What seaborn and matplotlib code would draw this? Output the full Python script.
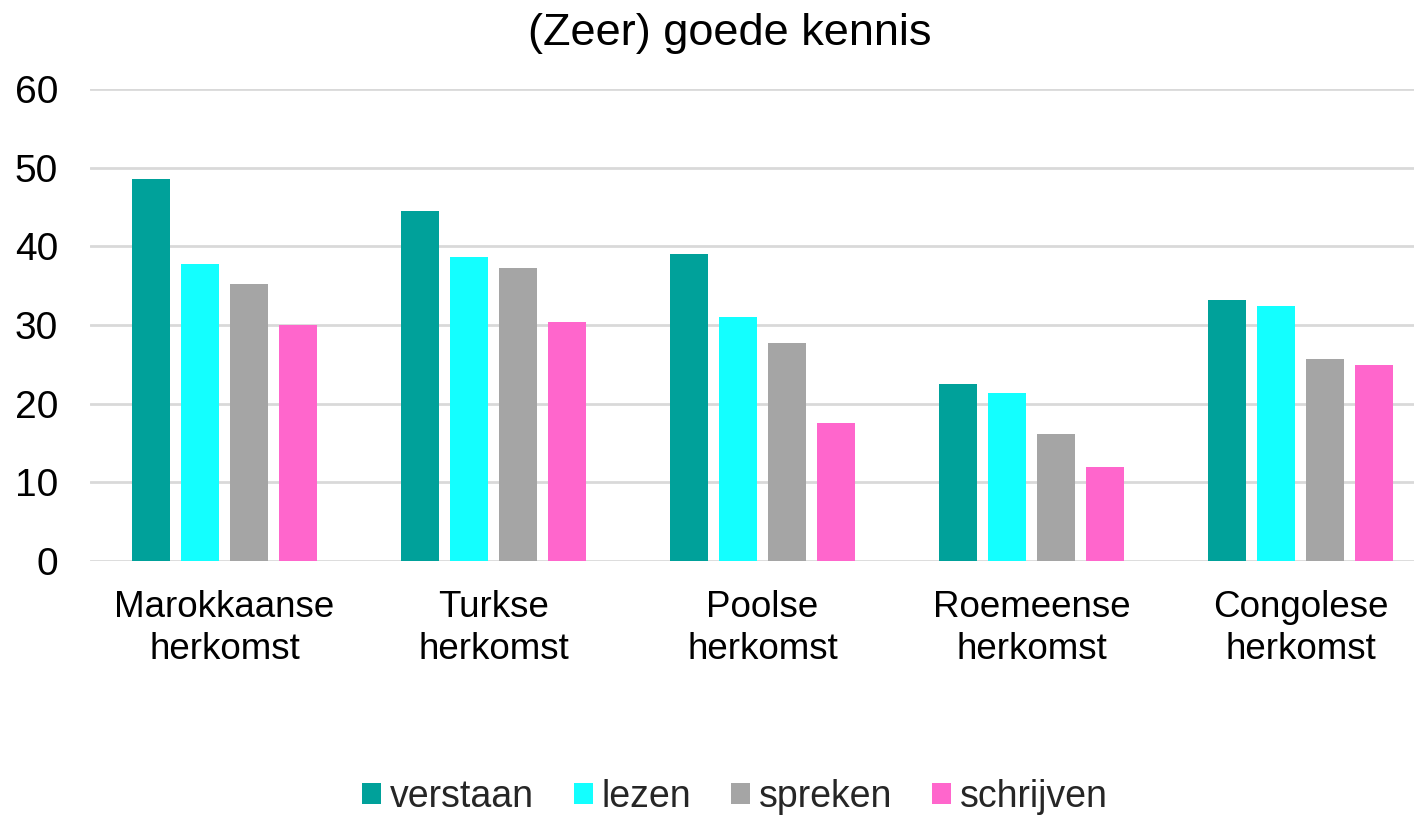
import matplotlib
matplotlib.use("Agg")
import matplotlib.pyplot as plt
import seaborn as sns
import pandas as pd

categories = ["Marokkaanse\nherkomst", "Turkse\nherkomst", "Poolse\nherkomst",
              "Roemeense\nherkomst", "Congolese\nherkomst"]
series = ["verstaan", "lezen", "spreken", "schrijven"]
verstaan = [48.5, 44.5, 39.0, 22.5, 33.2]
lezen = [37.8, 38.6, 31.0, 21.3, 32.4]
spreken = [35.2, 37.2, 27.7, 16.1, 25.7]
schrijven = [30.0, 30.4, 17.5, 11.9, 24.9]
colors = ["#00A19A", "#13FFFF", "#A5A5A5", "#FF66CC"]

rows = []
for s, vals in zip(series, [verstaan, lezen, spreken, schrijven]):
    for c, v in zip(categories, vals):
        rows.append({"cat": c, "serie": s, "val": v})
df = pd.DataFrame(rows)

sns.set_theme(style="white")
plt.rcParams["font.family"] = ["Liberation Sans", "DejaVu Sans"]

W, H = 1414, 816
fig = plt.figure(figsize=(W / 100, H / 100), dpi=100)
ax = fig.add_axes([90 / W, (H - 561) / H, (1414 - 90) / W, (561 - 89) / H])

sns.barplot(data=df, x="cat", y="val", hue="serie", palette=colors,
            width=0.73, gap=0.22, ax=ax, legend=True, linewidth=0, saturation=1)

ax.set_ylim(0, 60)
ax.set_xlim(-0.5, -0.5 + (1414 - 90) / 269.0)
ax.set_yticks([0, 10, 20, 30, 40, 50, 60])
ax.yaxis.grid(True, color="#D9D9D9", linewidth=2)
ax.set_axisbelow(True)
for sp in ax.spines.values():
    sp.set_visible(False)
ax.set_xlabel("")
ax.set_ylabel("")
ax.tick_params(axis="x", length=0, labelsize=26.5, colors="black", pad=21)
ax.tick_params(axis="y", length=0, labelsize=28, colors="black", pad=23)
for lbl in ax.get_xticklabels():
    lbl.set_linespacing(1.25)

fig.text(730 / W, 1 - 33 / H, "(Zeer) goede kennis", ha="center", va="center",
         fontsize=32.5, color="black")

ax.get_legend().remove()
handles, labels = ax.get_legend_handles_labels()
fig.legend(handles, labels, loc="center", bbox_to_anchor=(735 / W, 1 - 797 / H),
           ncol=4, frameon=False, fontsize=27, handlelength=0.5, handleheight=0.5,
           handletextpad=0.25, columnspacing=1.05)

fig.savefig("out.png", dpi=100)
